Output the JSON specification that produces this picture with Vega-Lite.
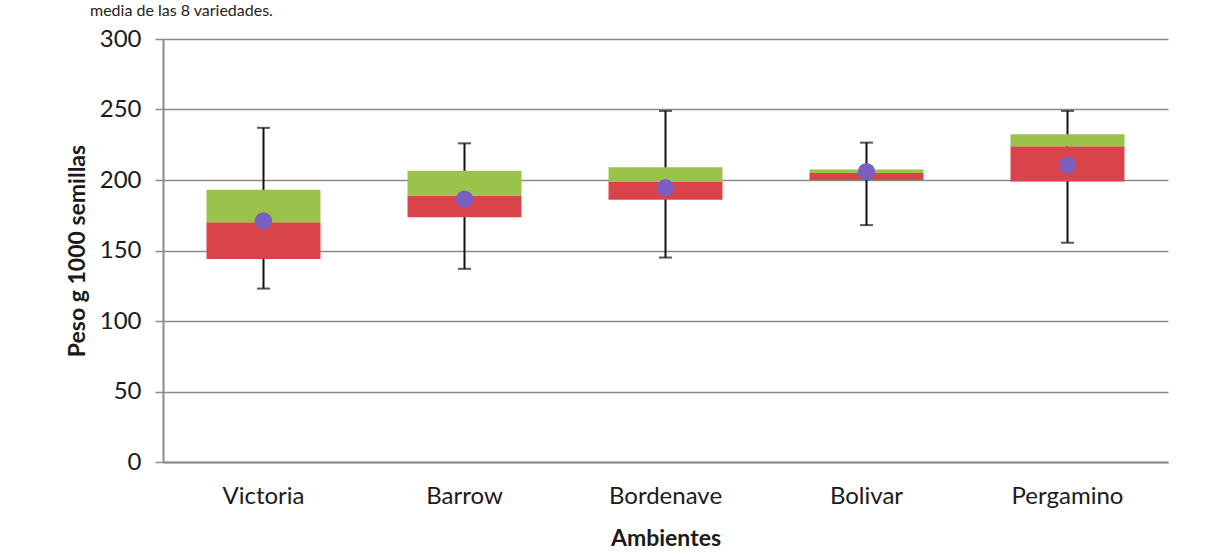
{
  "$schema": "https://vega.github.io/schema/vega-lite/v6.json",
  "autosize": "none",
  "width": 1005,
  "height": 423,
  "padding": {"left": 163, "top": 39, "right": 49, "bottom": 94},
  "background": "#ffffff",
  "title": {
    "text": "media de las 8 variedades.",
    "anchor": "start",
    "frame": "group",
    "orient": "top",
    "baseline": "bottom",
    "offset": 4,
    "dx": -73,
    "dy": 12,
    "font": "Lato",
    "fontSize": 16,
    "fontWeight": "normal",
    "color": "#222222"
  },
  "data": {
    "values": [
      {"Ambiente": "Victoria", "min": 123, "q1": 144, "mediana": 170, "q3": 193, "max": 237, "media": 171},
      {"Ambiente": "Barrow", "min": 137, "q1": 173.5, "mediana": 189, "q3": 206.5, "max": 226, "media": 186.5},
      {"Ambiente": "Bordenave", "min": 145, "q1": 186, "mediana": 199, "q3": 209, "max": 249, "media": 194.5},
      {"Ambiente": "Bolivar", "min": 168, "q1": 200, "mediana": 205, "q3": 207.5, "max": 226.5, "media": 206},
      {"Ambiente": "Pergamino", "min": 155.5, "q1": 199, "mediana": 224, "q3": 232.5, "max": 249, "media": 210.5}
    ]
  },
  "encoding": {
    "x": {
      "field": "Ambiente",
      "type": "nominal",
      "sort": null,
      "scale": {"paddingInner": 0, "paddingOuter": 0},
      "axis": {
        "title": "Ambientes",
        "labelAngle": 0,
        "ticks": false,
        "labelPadding": 22,
        "titlePadding": 19,
        "domainColor": "#8a8a8a",
        "domainWidth": 2
      }
    }
  },
  "layer": [
    {
      "mark": {"type": "rule", "color": "#111111", "strokeWidth": 2},
      "encoding": {
        "y": {
          "field": "min",
          "type": "quantitative",
          "scale": {"domain": [0, 300], "nice": false},
          "axis": {
            "title": "Peso g 1000 semillas",
            "values": [0, 50, 100, 150, 200, 250, 300],
            "grid": true,
            "gridColor": "#8a8a8a",
            "gridWidth": 1.5,
            "domainColor": "#8a8a8a",
            "domainWidth": 2,
            "tickColor": "#8a8a8a",
            "tickWidth": 1.5,
            "tickSize": 8,
            "labelPadding": 14,
            "titlePadding": 10
          }
        },
        "y2": {"field": "max"}
      }
    },
    {
      "mark": {"type": "bar", "color": "#d9444a", "width": {"band": 0.567}},
      "encoding": {
        "y": {"field": "q1", "type": "quantitative"},
        "y2": {"field": "mediana"}
      }
    },
    {
      "mark": {"type": "bar", "color": "#9bc24b", "width": {"band": 0.567}},
      "encoding": {
        "y": {"field": "mediana", "type": "quantitative"},
        "y2": {"field": "q3"}
      }
    },
    {
      "mark": {"type": "tick", "color": "#111111", "thickness": 2, "size": 13},
      "encoding": {"y": {"field": "min", "type": "quantitative"}}
    },
    {
      "mark": {"type": "tick", "color": "#111111", "thickness": 2, "size": 13},
      "encoding": {"y": {"field": "max", "type": "quantitative"}}
    },
    {
      "mark": {"type": "point", "filled": true, "opacity": 1, "color": "#7b5ebf", "size": 300},
      "encoding": {"y": {"field": "media", "type": "quantitative"}}
    }
  ],
  "config": {
    "view": {"stroke": null},
    "font": "Lato",
    "axis": {
      "labelFont": "Lato",
      "labelFontSize": 24,
      "labelColor": "#1a1a1a",
      "titleFont": "Lato",
      "titleFontSize": 23,
      "titleFontWeight": "bold",
      "titleColor": "#1a1a1a"
    }
  }
}
